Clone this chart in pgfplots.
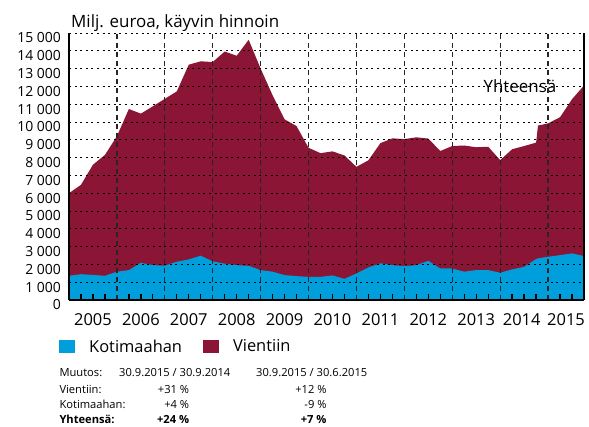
\documentclass[border=0pt]{standalone}
\usepackage{fontspec}
\setmainfont{Open Sans}
\usepackage{pgfplots}
\usepackage{pgfplotstable}
\pgfplotsset{compat=1.18}
\definecolor{kblue}{RGB}{0,158,219}
\definecolor{vred}{RGB}{139,21,53}
\pgfplotstableread{
x tot dom
2005.00 6000 1360
2005.25 6470 1450
2005.50 7600 1410
2005.75 8150 1360
2006.00 9200 1590
2006.25 10730 1680
2006.50 10470 2090
2006.75 10880 1960
2007.00 11300 1930
2007.25 11720 2150
2007.50 13220 2280
2007.75 13410 2490
2008.00 13370 2170
2008.25 13960 2040
2008.50 13720 1960
2008.75 14620 1920
2009.00 13000 1680
2009.25 11500 1590
2009.50 10150 1400
2009.75 9770 1340
2010.00 8550 1300
2010.25 8250 1300
2010.50 8350 1380
2010.75 8120 1190
2011.00 7480 1490
2011.25 7850 1830
2011.50 8810 2060
2011.75 9080 1960
2012.00 9040 1900
2012.25 9140 1960
2012.50 9070 2200
2012.75 8370 1770
2013.00 8650 1770
2013.25 8680 1590
2013.50 8580 1680
2013.75 8610 1680
2014.00 7860 1530
2014.25 8470 1720
2014.50 8650 1860
2014.75 8840 2300
2014.79 9800 2340
2015.00 9920 2430
2015.25 10270 2520
2015.50 11280 2620
2015.75 12050 2470
}\datatable
\begin{document}
\begin{tikzpicture}
\path[use as bounding box] (0,0) rectangle (589bp,-427bp);
\begin{axis}[
  at={(69bp,-300bp)}, anchor=south west,
  scale only axis, width=515bp, height=267bp,
  xmin=2005, xmax=2015.75, ymin=0, ymax=15000,
  clip=false,
  axis on top,
  axis x line=bottom, axis y line=box,
  axis line style={-, black, line width=1.1bp},
  scaled y ticks=false,
  /pgf/number format/assume math mode=true,
  /pgf/number format/1000 sep={\hspace{3.6bp}},
  ytick={0,1000,...,15000},
  ytick pos=left,
  major tick length=0pt,
  yticklabel style={font=\fontsize{14}{16}\selectfont, anchor=east, inner sep=0pt, xshift=-8bp, yshift=-5bp},
  ymajorgrids,
  major grid style={black, line width=0.8bp, dash pattern=on 2bp off 3.6bp},
  xtick={2006,2007,2008,2009,2010,2011,2012,2013,2014,2015},
  xticklabels={},
  xmajorgrids,
  x grid style={black!85, line width=1.2bp, dash pattern=on 5bp off 4bp},
  legend columns=2,
  legend style={at={(rel axis cs:-0.0194,-0.14)}, anchor=north west, draw=none, fill=none,
    font=\fontsize{16.5}{18}\selectfont, inner sep=0pt,
    /tikz/every odd column/.append style={column sep=12bp},
    /tikz/every even column/.append style={column sep=19bp}},
  legend image code/.code={\fill[#1] (0bp,-6.5bp) rectangle (16bp,6.5bp);},
]
\addlegendimage{fill=kblue, draw=none}
\addlegendentry{Kotimaahan}
\addlegendimage{fill=vred, draw=none}
\addlegendentry{Vientiin}
\addplot[forget plot, fill=vred, draw=none] table[x=x, y=tot] {\datatable} \closedcycle;
\addplot[forget plot, fill=kblue, draw=none] table[x=x, y=dom] {\datatable} \closedcycle;
\node[anchor=base west, font=\fontsize{17}{19}\selectfont, inner sep=0pt] at (axis cs:2013.65,11680) {Yhteensä};
\begin{scope}[every node/.style={anchor=base, inner sep=0pt, yshift=-25bp, font=\fontsize{16.5}{18}\selectfont}]
\node at (axis cs:2005.5,0) {2005};
\node at (axis cs:2006.5,0) {2006};
\node at (axis cs:2007.5,0) {2007};
\node at (axis cs:2008.5,0) {2008};
\node at (axis cs:2009.5,0) {2009};
\node at (axis cs:2010.5,0) {2010};
\node at (axis cs:2011.5,0) {2011};
\node at (axis cs:2012.5,0) {2012};
\node at (axis cs:2013.5,0) {2013};
\node at (axis cs:2014.45,0) {2014};
\node at (axis cs:2015.375,0) {2015};
\end{scope}
\end{axis}
% quarter tick marks along the bottom, drawn as a short grid
\begin{axis}[
  at={(69bp,-300bp)}, anchor=south west,
  scale only axis, width=515bp, height=6bp,
  xmin=2005, xmax=2015.75, ymin=0, ymax=1,
  axis line style={draw=none},
  xtick={2005.25,2005.5,2005.75,2006.25,2006.5,2006.75,2007.25,2007.5,2007.75,2008.25,2008.5,2008.75,2009.25,2009.5,2009.75,2010.25,2010.5,2010.75,2011.25,2011.5,2011.75,2012.25,2012.5,2012.75,2013.25,2013.5,2013.75,2014.25,2014.5,2014.75,2015.25,2015.5},
  xticklabels={},
  ytick=\empty,
  major tick length=0pt,
  xmajorgrids,
  major grid style={solid, black, line width=1.3bp},
]
\end{axis}
\node[anchor=base west, inner sep=0pt, font=\fontsize{17}{19}\selectfont] at (71bp,-27.3bp) {Milj. euroa, käyvin hinnoin};
\begin{scope}[every node/.style={inner sep=0pt, font=\fontsize{11.2}{13}\selectfont}]
\node[anchor=base west] at (59.3bp,-376.7bp) {Muutos:};
\node[anchor=base west] at (119bp,-376.7bp) {30.9.2015 / 30.9.2014};
\node[anchor=base west] at (256bp,-376.7bp) {30.9.2015 / 30.6.2015};
\node[anchor=base west] at (59.3bp,-393.3bp) {Vientiin:};
\node[anchor=base east] at (189.3bp,-393.3bp) {+31 \%};
\node[anchor=base east] at (326.7bp,-393.3bp) {+12 \%};
\node[anchor=base west] at (59.3bp,-408.3bp) {Kotimaahan:};
\node[anchor=base east] at (189.3bp,-408.3bp) {+4 \%};
\node[anchor=base east] at (326.7bp,-408.3bp) {-9 \%};
\node[anchor=base west] at (59.3bp,-423.3bp) {\bfseries Yhteensä:};
\node[anchor=base east] at (189.3bp,-423.3bp) {\bfseries +24 \%};
\node[anchor=base east] at (326.7bp,-423.3bp) {\bfseries +7 \%};
\end{scope}
\end{tikzpicture}
\end{document}
